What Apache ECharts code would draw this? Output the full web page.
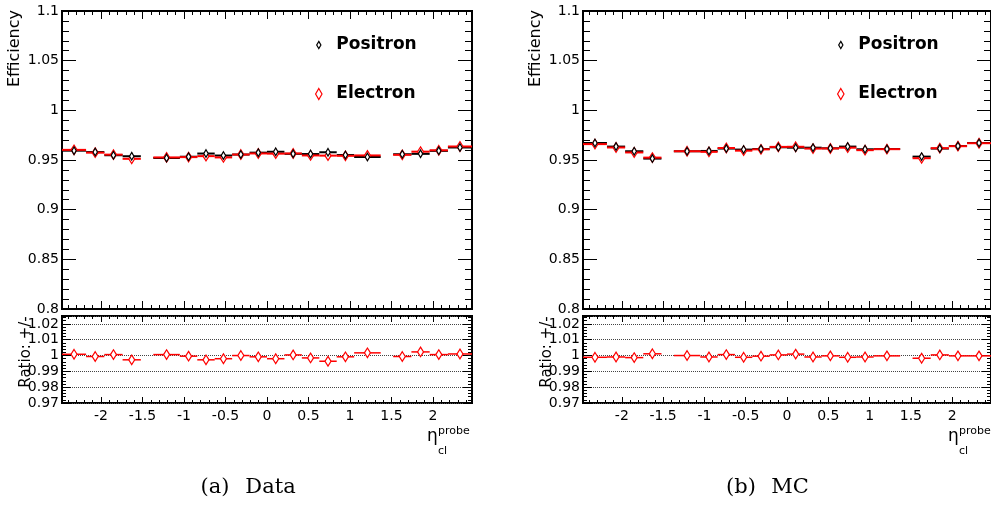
<!DOCTYPE html>
<html><head><meta charset="utf-8">
<script src="https://cdn.jsdelivr.net/npm/echarts@6/dist/echarts.min.js"></script>
<style>html,body{margin:0;padding:0;background:#fff}#c{width:991px;height:507px}</style>
</head><body><div id="c"></div>
<script>
// ---- data ----
const etaLow  = [-2.47,-2.18,-1.96,-1.74,-1.37,-1.05,-0.84,-0.63,-0.42,-0.21,0.00,0.21,0.42,0.63,0.84,1.05,1.52,1.74,1.96,2.18];
const etaHigh = [-2.18,-1.96,-1.74,-1.52,-1.05,-0.84,-0.63,-0.42,-0.21,0.00,0.21,0.42,0.63,0.84,1.05,1.37,1.74,1.96,2.18,2.47];

const dataPositron = [0.9594,0.9580,0.9548,0.9538,0.9520,0.9533,0.9565,0.9545,0.9555,0.9574,0.9583,0.9562,0.9560,0.9578,0.9550,0.9530,0.9558,0.9562,0.9592,0.9626];
const dataElectron = [0.9602,0.9574,0.9554,0.9512,0.9526,0.9529,0.9539,0.9526,0.9555,0.9566,0.9564,0.9566,0.9546,0.9544,0.9542,0.9546,0.9552,0.9584,0.9598,0.9636];
const dataRatio    = [1.0008,0.9994,1.0006,0.9973,1.0006,0.9996,0.9973,0.9980,1.0000,0.9992,0.9980,1.0004,0.9985,0.9964,0.9992,1.0017,0.9994,1.0023,1.0006,1.0010];

const mcPositron = [0.9671,0.9635,0.9588,0.9514,0.9588,0.9591,0.9615,0.9605,0.9611,0.9628,0.9624,0.9624,0.9618,0.9635,0.9608,0.9611,0.9534,0.9615,0.9641,0.9671];
const mcElectron = [0.9660,0.9626,0.9576,0.9524,0.9588,0.9582,0.9621,0.9594,0.9607,0.9632,0.9633,0.9615,0.9616,0.9624,0.9599,0.9609,0.9518,0.9619,0.9639,0.9669];
const mcRatio    = [0.9989,0.9991,0.9987,1.0011,1.0000,0.9991,1.0006,0.9989,0.9996,1.0004,1.0009,0.9991,0.9998,0.9989,0.9991,0.9998,0.9983,1.0004,0.9998,0.9998];

const etaMajorTicks = [-2,-1.5,-1,-0.5,0,0.5,1,1.5,2];
const etaMinorTicks = [];
for (let k = -24; k <= 24; k++) if (k % 5 !== 0) etaMinorTicks.push(k / 10);

const seriesNames = ['Positron', 'Electron'];
const captions = [['(a)', 'Data'], ['(b)', 'MC']];

// ---- helpers ----
const FONT = 'DejaVu Sans';
const BLACK = '#000000', RED = '#ff0000';

function binRows(vals) { return etaLow.map((lo, i) => [lo, etaHigh[i], vals[i]]); }

function render(color, mode, hw, hh, lw) {
  return function (params, api) {
    const lo = api.value(0), hi = api.value(1), v = api.value(2);
    const a = api.coord([lo, v]), b = api.coord([hi, v]);
    const c = api.coord([(lo + hi) / 2, v]);
    const line = {type: 'line', shape: {x1: a[0], y1: a[1], x2: b[0], y2: b[1]}, style: {stroke: color, lineWidth: lw}};
    const dia = {type: 'polygon', shape: {points: [[c[0], c[1] - hh], [c[0] + hw, c[1]], [c[0], c[1] + hh], [c[0] - hw, c[1]]]},
                 style: {fill: '#fff', stroke: color, lineWidth: 1.2}};
    if (mode === 'line') return line;
    if (mode === 'marker') return dia;
    return {type: 'group', children: [line, dia]};
  };
}

function custom(name, g, vals, color, mode, hw, hh, lw, z) {
  return {type: 'custom', name: name, xAxisIndex: 4 * g, yAxisIndex: 2 * g, z: z,
    itemStyle: {color: color}, encode: {x: [0, 1], y: 2}, data: binRows(vals),
    renderItem: render(color, mode, hw, hh, lw), silent: true};
}

function xAxes(g, showLabels, majLen, minLen) {
  const base = {type: 'value', gridIndex: g, min: -2.47, max: 2.47, splitLine: {show: false}, axisLine: {show: false, onZero: false}};
  const lab = {show: false};
  return [
    Object.assign({}, base, {position: 'bottom',
      axisTick: {show: true, inside: true, length: majLen, customValues: etaMajorTicks, lineStyle: {color: BLACK, width: 1}},
      axisLabel: showLabels ? {show: true, customValues: etaMajorTicks, margin: 6, color: BLACK, fontFamily: FONT, fontSize: 14} : lab}),
    Object.assign({}, base, {position: 'bottom',
      axisTick: {show: true, inside: true, length: minLen, customValues: etaMinorTicks, lineStyle: {color: BLACK, width: 1}}, axisLabel: lab}),
    Object.assign({}, base, {position: 'top',
      axisTick: {show: true, inside: true, length: majLen, customValues: etaMajorTicks, lineStyle: {color: BLACK, width: 1}}, axisLabel: lab}),
    Object.assign({}, base, {position: 'top',
      axisTick: {show: true, inside: true, length: minLen, customValues: etaMinorTicks, lineStyle: {color: BLACK, width: 1}}, axisLabel: lab})
  ];
}

function yAxes(g, upper) {
  const base = upper
    ? {min: 0.8, max: 1.1, interval: 0.05}
    : {min: 0.97, max: 1.025, interval: 0.01};
  const majLen = upper ? 14 : 9, minLen = upper ? 7 : 4;
  const common = Object.assign({type: 'value', gridIndex: g, axisLine: {show: false, onZero: false},
    axisTick: {show: true, inside: true, length: majLen, lineStyle: {color: BLACK}},
    minorTick: {show: true, splitNumber: 5, length: minLen, lineStyle: {color: BLACK}},
    minorSplitLine: {show: false}}, base);
  return [
    Object.assign({}, common, {position: 'left',
      axisLabel: {show: true, margin: 3, color: BLACK, fontFamily: FONT, fontSize: 14,
        formatter: v => (v > (upper ? 1.1001 : 1.0201) ? '' : String(Number(v.toFixed(3))))},
      splitLine: upper ? {show: false} : {show: true, lineStyle: {type: 'dotted', color: '#444', width: 1}}}),
    Object.assign({}, common, {position: 'right', axisLabel: {show: false}, splitLine: {show: false}})
  ];
}

const panelLeft = [62, 583];
const panelWidth = [410, 409];
const grids = [], xs = [], ys = [], series = [], legends = [], graphics = [];

const upperData = [[dataPositron, dataElectron], [mcPositron, mcElectron]];
const ratioData = [dataRatio, mcRatio];

const posIcon = 'path://M0,-5.5M0,-3.6L2.1,0L0,3.6L-2.1,0ZM0,5.5';
const eleIcon = 'path://M0,-5.5L3.2,0L0,5.5L-3.2,0Z';

for (let p = 0; p < 2; p++) {
  const gu = 2 * p, gl = 2 * p + 1;
  grids.push({left: panelLeft[p], top: 11, width: panelWidth[p], height: 298, show: true, borderColor: BLACK, borderWidth: 2, backgroundColor: 'transparent'});
  grids.push({left: panelLeft[p], top: 316, width: panelWidth[p], height: 87, show: true, borderColor: BLACK, borderWidth: 2, backgroundColor: 'transparent'});
  xs.push(...xAxes(gu, false, 8, 4));
  xs.push(...xAxes(gl, true, 6, 3));
  ys.push(...yAxes(gu, true));
  ys.push(...yAxes(gl, false));

  const [pos, ele] = upperData[p];
  series.push(custom(seriesNames[0], gu, pos, BLACK, 'line', 0, 0, 2, 2));
  series.push(custom(seriesNames[1], gu, ele, RED, 'line', 0, 0, 2, 3));
  series.push(custom(seriesNames[1], gu, ele, RED, 'marker', 3, 4.8, 2, 4));
  series.push(custom(seriesNames[0], gu, pos, BLACK, 'marker', 2.2, 3.8, 2, 5));
  series.push(custom('Ratio', gl, ratioData[p], RED, 'both', 3, 4.8, 1.5, 3));

  const lx = p === 0 ? 315 : 837;
  legends.push({left: lx, top: 36, orient: 'vertical', padding: 0, itemGap: 31, itemWidth: 25, itemHeight: 11,
    selectedMode: false, textStyle: {fontFamily: FONT, fontWeight: 'bold', fontSize: 17, color: BLACK, lineHeight: 18},
    data: [
      {name: seriesNames[0], icon: posIcon, itemStyle: {color: '#fff', borderColor: BLACK, borderWidth: 1.2}},
      {name: seriesNames[1], icon: eleIcon, itemStyle: {color: '#fff', borderColor: RED, borderWidth: 1.2}}
    ]});

  const dx = p === 0 ? 0 : 521;
  graphics.push({type: 'text', x: 15 + dx, y: 10, rotation: Math.PI / 2,
    style: {text: 'Efficiency', font: '16px "DejaVu Sans"', fill: BLACK, textAlign: 'right', align: 'right', textVerticalAlign: 'middle', verticalAlign: 'middle'}});
  graphics.push({type: 'text', x: 26 + dx, y: 352, rotation: Math.PI / 2,
    style: {text: 'Ratio: +/-', font: '15px "DejaVu Sans"', fill: BLACK, textAlign: 'center', align: 'center', textVerticalAlign: 'middle', verticalAlign: 'middle'}});
  graphics.push({type: 'text', x: 427 + dx, y: 437,
    style: {text: 'η', font: '17px "DejaVu Sans"', fill: BLACK, textAlign: 'left', align: 'left', textVerticalAlign: 'middle', verticalAlign: 'middle'}});
  graphics.push({type: 'text', x: 438 + dx, y: 431,
    style: {text: 'probe', font: '11px "DejaVu Sans"', fill: BLACK, textAlign: 'left', align: 'left', textVerticalAlign: 'middle', verticalAlign: 'middle'}});
  graphics.push({type: 'text', x: 438 + dx, y: 451,
    style: {text: 'cl', font: '11px "DejaVu Sans"', fill: BLACK, textAlign: 'left', align: 'left', textVerticalAlign: 'middle', verticalAlign: 'middle'}});
  const capX = p === 0 ? [215, 270.5] : [741, 790];
  graphics.push({type: 'text', x: capX[0], y: 488,
    style: {text: captions[p][0], font: '21px "DejaVu Serif"', fill: BLACK, textAlign: 'center', align: 'center', textVerticalAlign: 'middle', verticalAlign: 'middle'}});
  graphics.push({type: 'text', x: capX[1], y: 488,
    style: {text: captions[p][1], font: '21px "DejaVu Serif"', fill: BLACK, textAlign: 'center', align: 'center', textVerticalAlign: 'middle', verticalAlign: 'middle'}});
}

const chart = echarts.init(document.getElementById('c'), null, {renderer: 'canvas'});
chart.setOption({
  animation: false,
  backgroundColor: '#fff',
  grid: grids, xAxis: xs, yAxis: ys, series: series, legend: legends, graphic: graphics
});
</script></body></html>
